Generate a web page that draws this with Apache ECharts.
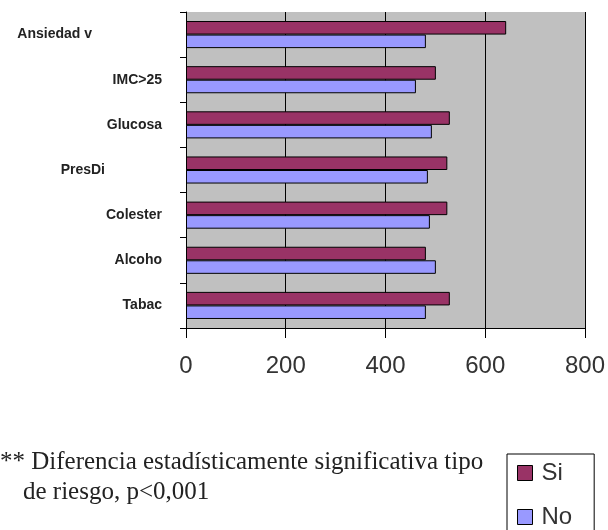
<!DOCTYPE html>
<html>
<head>
<meta charset="utf-8">
<script src="https://cdn.jsdelivr.net/npm/echarts@6/dist/echarts.min.js"></script>
<style>
  html, body { margin: 0; padding: 0; background: #fff; }
  #chart { width: 608px; height: 530px; }
</style>
</head>
<body>
<div id="chart"></div>
<script>
// categorias de abajo hacia arriba (eje Y)
var categorias = ['Tabac', 'Alcoho', 'Colester', 'PresDi', 'Glucosa', 'IMC>25', 'Ansiedad v'];
var valoresSi = [529, 481, 524, 524, 529, 501, 642];
var valoresNo = [481, 501, 489, 485, 493, 461, 481];
var ticksX = [0, 200, 400, 600, 800];
var nota1 = '** Diferencia estadísticamente significativa tipo';
var nota2 = 'de riesgo, p<0,001';

// algunas etiquetas no van alineadas a la derecha en el original
var extraPadding = { 'PresDi': 57, 'Ansiedad v': 70 };

var chart = echarts.init(document.getElementById('chart'));

var catData = categorias.map(function (c) {
    var p = extraPadding[c] || 0;
    return { value: c, textStyle: { padding: [0, p, 0, 0] } };
});

var option = {
    backgroundColor: '#ffffff',
    animation: false,
    grid: {
        left: 186,
        right: 10,
        top: 12,
        bottom: 202,
        show: true,
        backgroundColor: '#c0c0c0',
        borderWidth: 0
    },
    legend: {
        data: ['Si', 'No'],
        orient: 'vertical',
        left: 507,
        top: 454,
        height: 140,
        padding: [7, 22, 10, 10],
        itemGap: 20,
        itemWidth: 15,
        itemHeight: 15,
        icon: 'rect',
        borderColor: '#000',
        borderWidth: 1,
        backgroundColor: '#fff',
        itemStyle: { borderColor: '#000', borderWidth: 1 },
        textStyle: { fontFamily: 'Liberation Sans', fontSize: 24, color: '#333', padding: [0, 0, 0, 4] }
    },
    xAxis: {
        type: 'value',
        min: ticksX[0],
        max: ticksX[ticksX.length - 1],
        interval: 200,
        axisLine: { show: true, lineStyle: { color: '#000', width: 1 } },
        axisTick: { show: true, length: 10, lineStyle: { color: '#000' } },
        splitLine: { show: true, lineStyle: { color: '#000', width: 1 } },
        axisLabel: {
            margin: 26,
            fontFamily: 'Liberation Sans',
            fontSize: 24,
            color: '#333'
        }
    },
    yAxis: {
        type: 'category',
        data: catData,
        axisLine: { show: true, lineStyle: { color: '#000', width: 1 } },
        axisTick: { show: true, length: 6, lineStyle: { color: '#000' } },
        axisLabel: {
            margin: 24,
            fontFamily: 'Liberation Sans',
            fontSize: 14,
            fontWeight: 'bold',
            color: '#222'
        }
    },
    series: [
        {
            name: 'Si',
            type: 'bar',
            data: valoresSi,
            barGap: '0%',
            barCategoryGap: '40%',
            itemStyle: { color: '#993366', borderColor: '#000', borderWidth: 1 }
        },
        {
            name: 'No',
            type: 'bar',
            data: valoresNo,
            itemStyle: { color: '#9999ff', borderColor: '#000', borderWidth: 1 }
        }
    ],
    graphic: [
        {
            type: 'text',
            left: 0,
            top: 450,
            style: { text: nota1, font: '25px "Liberation Serif"', fill: '#222' }
        },
        {
            type: 'text',
            left: 23,
            top: 480,
            style: { text: nota2, font: '25px "Liberation Serif"', fill: '#222' }
        }
    ]
};

chart.setOption(option);
</script>
</body>
</html>
